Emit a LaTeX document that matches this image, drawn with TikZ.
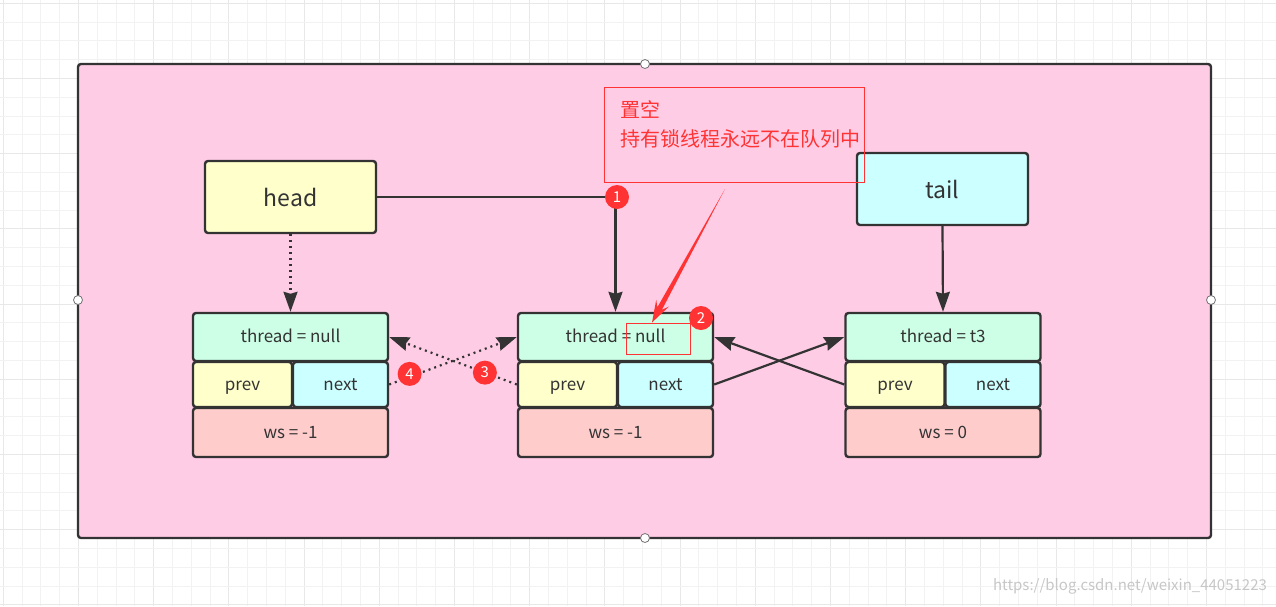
\documentclass[tikz,border=0pt]{standalone}
\usepackage{fontspec}
\setmainfont{Noto Sans CJK SC}
\usepackage{tikz}
\usetikzlibrary{arrows.meta,positioning,calc}
\usepackage{xcolor}
\definecolor{lqpink}{HTML}{FFCCE6}
\definecolor{lqyellow}{HTML}{FFFFCC}
\definecolor{lqcyan}{HTML}{CCFFFF}
\definecolor{lqmint}{HTML}{CCFFE6}
\definecolor{lqsalmon}{HTML}{FFCCCC}
\definecolor{lqred}{HTML}{FF3333}
\definecolor{lqdark}{HTML}{333333}
\tikzset{
  lqgrid/.style={draw=black!5, line width=0.5pt},
  lqgridmajor/.style={draw=black!9, line width=0.5pt},
  lqframe/.style={draw=lqdark, fill=lqpink, line width=1.2pt, rounded corners=1.5pt},
  lqhandle/.style={circle, draw=black!55, fill=white, line width=0.4pt, inner sep=0pt, minimum size=4.5pt},
  lqkey/.style={draw=lqdark, line width=1.2pt, rounded corners=1.5pt, minimum width=85.5pt, minimum height=36pt, text=lqdark, font=\fontsize{11.5}{12}\selectfont},
  lqcell/.style={draw=lqdark, line width=1.2pt, rounded corners=1.5pt, inner sep=0pt, text height=1.5ex, text depth=0.4ex, text=lqdark, font=\fontsize{8.5}{9}\selectfont},
  lqarrow/.style={-{Stealth[length=10pt,width=7pt,inset=1pt]}, draw=lqdark, line width=1.1pt},
  lqdarrow/.style={-{Stealth[length=10pt,width=7pt,inset=1pt]}, draw=lqdark, line width=1.1pt, dash pattern=on 1pt off 2pt},
  lqbadge/.style={circle, fill=lqred, text=white, inner sep=0pt, minimum size=12pt, font=\fontsize{7.5}{8}\selectfont},
  lqnote/.style={draw=lqred, line width=0.5pt, minimum width=130pt, minimum height=47.5pt},
}
\begin{document}
\begin{tikzpicture}[x=0.5pt, y=-0.5pt]
  \useasboundingbox (0,0) rectangle (1276,606);
  % canvas grid
  \fill[white] (0,0) rectangle (1276,606);
  \foreach \i in {0,...,67} {
    \pgfmathtruncatemacro{\m}{mod(\i,4)}
    \ifnum\m=0
      \draw[lqgridmajor] ({3.3+18.8*\i},0) -- ({3.3+18.8*\i},606);
    \else
      \draw[lqgrid] ({3.3+18.8*\i},0) -- ({3.3+18.8*\i},606);
    \fi
  }
  \foreach \j in {0,...,32} {
    \pgfmathtruncatemacro{\m}{mod(\j,4)}
    \ifnum\m=0
      \draw[lqgridmajor] (0,{3.3+18.8*\j}) -- (1276,{3.3+18.8*\j});
    \else
      \draw[lqgrid] (0,{3.3+18.8*\j}) -- (1276,{3.3+18.8*\j});
    \fi
  }
  \node[text=black!22, font=\fontsize{7.5}{8}\selectfont] (mark) at (1130,586) {https://blog.csdn.net/weixin\_44051223};

  % container
  \draw[lqframe] (78,64) rectangle (1211,538);
  \node[lqhandle] (hn) at (645,64) {};
  \node[lqhandle] (hw) at (78,300) {};
  \node[lqhandle] (he) at (1211,300) {};
  \node[lqhandle] (hs) at (645,538) {};

  % head / tail
  \node[lqkey, fill=lqyellow] (head) at (290.5,197) {head};
  \node[lqkey, fill=lqcyan] (tail) at (942.5,189) {tail};

  % queue nodes
  \foreach \k/\cx/\thr/\ws in {1/290.5/null/-1, 2/615.5/null/-1, 3/943/t3/0} {
    \node[lqcell, fill=lqmint, minimum width=97.5pt, minimum height=24pt] (t\k) at (\cx,337) {thread = \thr};
    \node[lqcell, fill=lqyellow, minimum width=49.5pt, minimum height=22.5pt] (p\k) at (\cx-48,384.5) {prev};
    \node[lqcell, fill=lqcyan, minimum width=47.5pt, minimum height=22.5pt] (n\k) at (\cx+50,384.5) {next};
    \node[lqcell, fill=lqsalmon, minimum width=97.5pt, minimum height=24.5pt] (w\k) at (\cx,432.5) {ws = \ws};
  }

  % links
  \draw[lqdarrow] (head.south) -- (t1.north);
  \draw[lqarrow] (head.east) -| (t2.north);
  \draw[lqarrow] (tail.south) -- (t3.north);
  \draw[lqdarrow] (n1.east) -- node[lqbadge, pos=0.16, yshift=1.5pt] (b4) {4} (t2.west);
  \draw[lqdarrow] (p2.west) -- node[lqbadge, pos=0.25] (b3) {3} (t1.east);
  \draw[lqarrow] (n2.east) -- (t3.west);
  \draw[lqarrow] (p3.west) -- (t2.east);
  \node[lqbadge] (b1) at (617,197) {1};

  % annotation
  \node[lqnote] (note) at (734,134.5) {};
  \node[anchor=west, align=left, text=lqred, inner sep=0pt, font=\fontsize{10}{14.5}\selectfont] (notetxt) at (620,124.5) {置空\\持有锁线程永远不在队列中};
  \node[draw=lqred, line width=0.5pt, minimum width=32pt, minimum height=15.5pt] (nullbox) at (658,338.5) {};
  \coordinate (notetail) at (725,189);
  \coordinate (notetip) at ([xshift=-3pt]nullbox.north);
  \coordinate (notejoin) at ($(notetip)!8pt!(notetail)$);
  \coordinate (notebase) at ($(notetip)!11pt!(notetail)$);
  \fill[lqred] (notetail)
    -- ($(notejoin)!1.3pt!90:(notetip)$) -- ($(notebase)!3.6pt!90:(notetip)$)
    -- (notetip)
    -- ($(notebase)!3.6pt!-90:(notetip)$) -- ($(notejoin)!1.3pt!-90:(notetip)$)
    -- cycle;
  \node[lqbadge] (b2) at (701,318) {2};
\end{tikzpicture}
\end{document}
